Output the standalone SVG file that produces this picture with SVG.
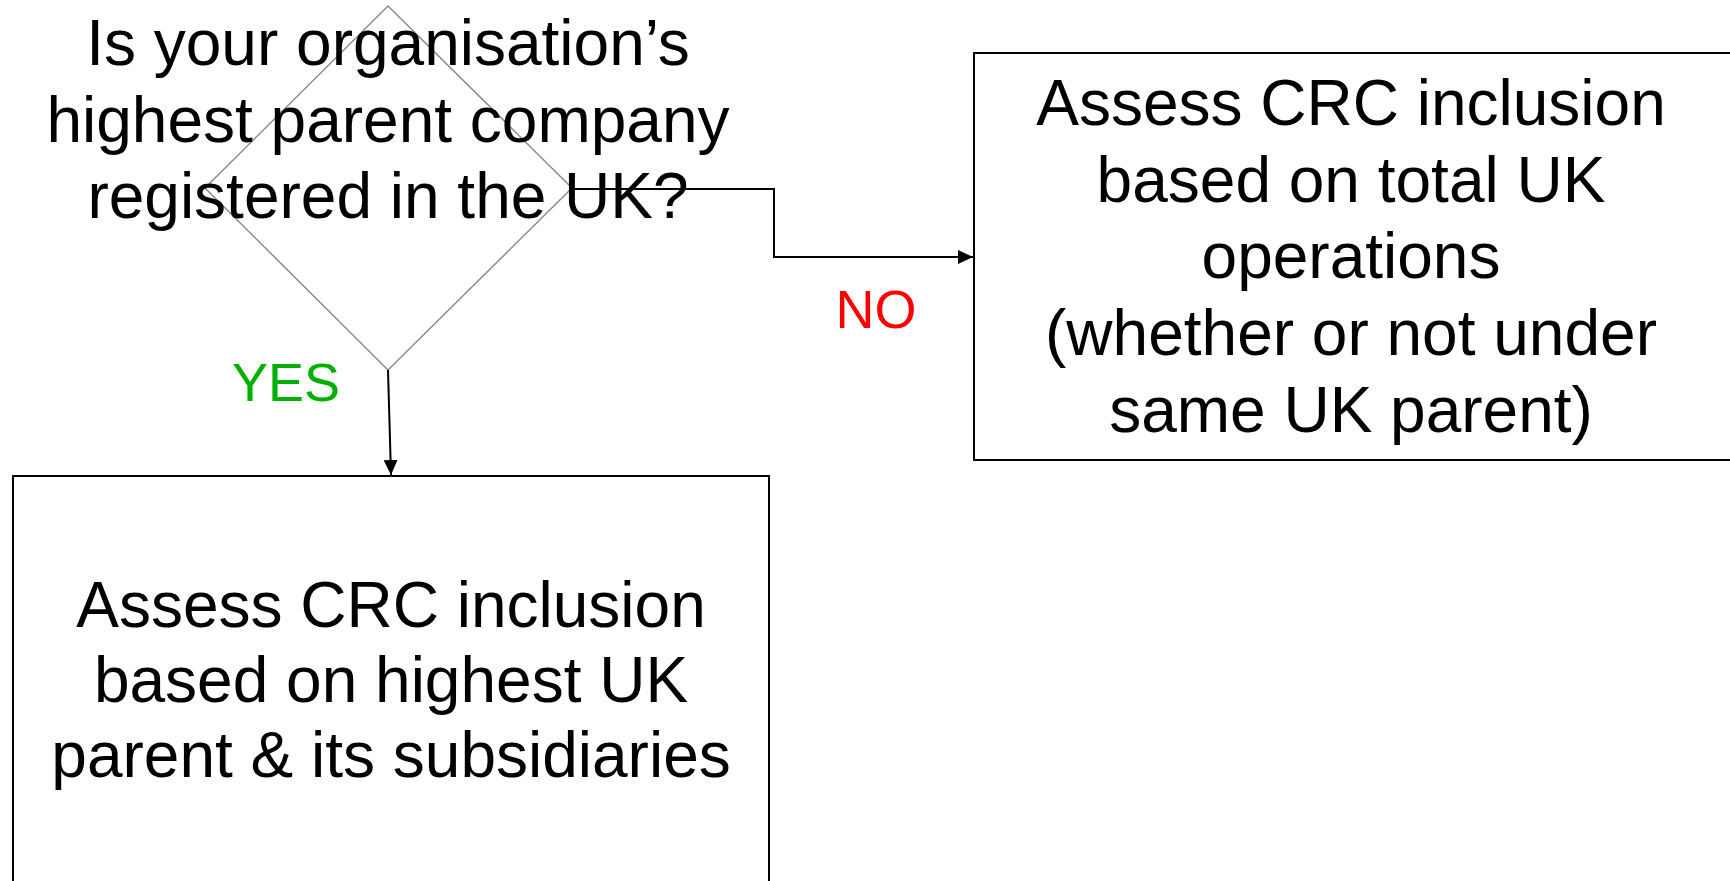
<svg xmlns="http://www.w3.org/2000/svg" width="1730" height="881" viewBox="0 0 1730 881">
<style>
.t{font-family:"Liberation Sans",Arial,sans-serif;font-size:64px;fill:#000;text-anchor:middle}
.box{fill:#fff;stroke:#000;stroke-width:2}
.conn{fill:none;stroke:#000;stroke-width:2}
.lbl{font-family:"Liberation Sans",Arial,sans-serif;text-anchor:middle;font-size:54px}
</style>
<defs>
<marker id="arr" markerWidth="15" markerHeight="14" refX="15" refY="7" orient="auto" markerUnits="userSpaceOnUse">
<path d="M0,0 L15,7 L0,14 Z" fill="#000"/>
</marker>
</defs>
<rect width="1730" height="881" fill="#fff"/>
<g id="node-yes-box">
<rect class="box" x="13" y="476" width="756" height="440"/>
<text class="t" x="391" y="627">Assess CRC inclusion</text>
<text class="t" x="391" y="702">based on highest UK</text>
<text class="t" x="391" y="777">parent &amp; its subsidiaries</text>
</g>
<g id="node-no-box">
<rect class="box" x="974" y="53" width="760" height="407"/>
<text class="t" x="1351" y="125">Assess CRC inclusion</text>
<text class="t" x="1351" y="202">based on total UK</text>
<text class="t" x="1351" y="278">operations</text>
<text class="t" x="1351" y="355">(whether or not under</text>
<text class="t" x="1351" y="432">same UK parent)</text>
</g>
<g id="node-decision">
<path d="M388,6 L572,188 L388,370 L205,188 Z" fill="none" stroke="#8c8c8c" stroke-width="1.5"/>
<text class="t" x="388" y="65">Is your organisation’s</text>
<text class="t" x="388" y="142">highest parent company</text>
<text class="t" x="388" y="218">registered in the UK?</text>
</g>
<g id="connectors">
<path class="conn" d="M388,370 L391,475" marker-end="url(#arr)"/>
<path class="conn" d="M572,189 L774,189 L774,257 L973,257" marker-end="url(#arr)"/>
<text class="lbl" x="286" y="401" fill="#00B000">YES</text>
<text class="lbl" x="876" y="328" fill="#FF0000">NO</text>
</g>
</svg>
